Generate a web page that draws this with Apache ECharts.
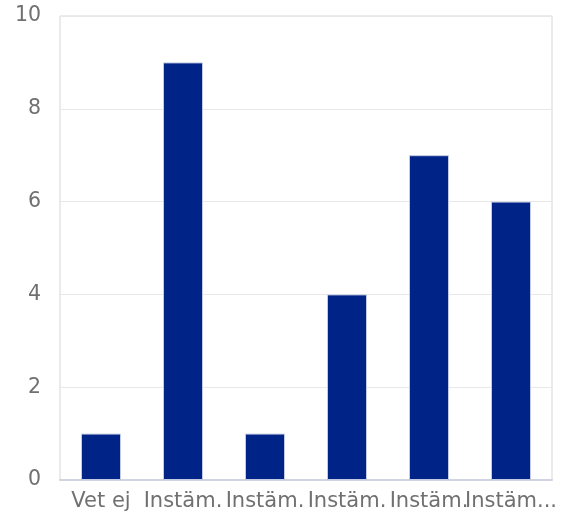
<!DOCTYPE html>
<html>
<head>
<meta charset="utf-8">
<script src="https://cdn.jsdelivr.net/npm/echarts@6/dist/echarts.min.js"></script>
<style>html,body{margin:0;padding:0;background:#fff}#c{width:563px;height:513px}</style>
</head>
<body>
<div id="c"></div>
<script>
const categories = ["Vet ej", "Instäm.", "Instäm.", "Instäm.", "Instäm.", "Instäm..."];
const values = [1, 9, 1, 4, 7, 6];
const yTicks = { min: 0, max: 10, interval: 2 };

const chart = echarts.init(document.getElementById('c'), null, { renderer: 'canvas' });
chart.setOption({
  animation: false,
  grid: { left: 60, right: 11, top: 16, bottom: 33, show: true, borderColor: '#d6d6d6', borderWidth: 1, backgroundColor: 'transparent' },
  xAxis: {
    type: 'category',
    data: categories,
    axisTick: { show: false },
    axisLine: { show: true, lineStyle: { color: '#d0d4e0', width: 2 } },
    axisLabel: { interval: 0, color: '#707070', fontFamily: 'DejaVu Sans', fontSize: 21, margin: 11 }
  },
  yAxis: {
    type: 'value',
    min: yTicks.min, max: yTicks.max, interval: yTicks.interval,
    axisLine: { show: false },
    axisTick: { show: false },
    splitLine: { lineStyle: { color: '#e8e8e8', width: 1 } },
    axisLabel: { color: '#707070', fontFamily: 'DejaVu Sans', fontSize: 20.5, margin: 19 }
  },
  series: [{
    type: 'bar',
    data: values,
    barWidth: 40,
    itemStyle: { color: '#002387', borderColor: '#c3cbe3', borderWidth: 1 }
  }]
});
</script>
</body>
</html>
